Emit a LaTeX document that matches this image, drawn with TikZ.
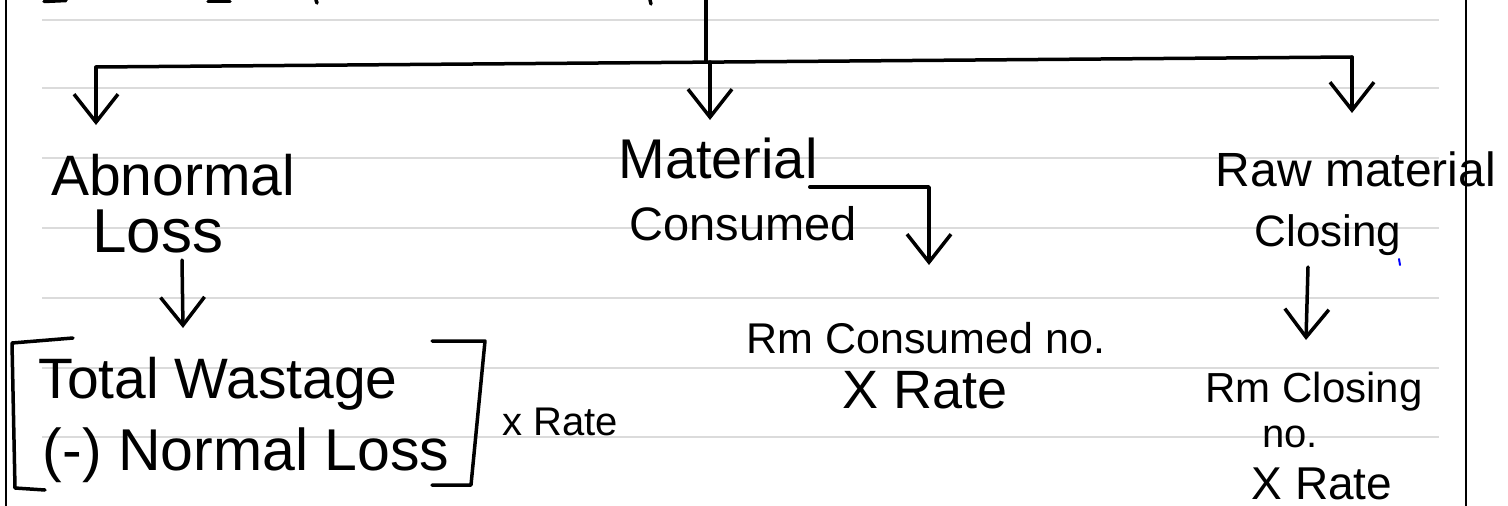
\documentclass[tikz,border=0pt]{standalone}
\usepackage{fontspec}
\setmainfont{Liberation Sans}
\usetikzlibrary{arrows.meta}

\begin{document}
\begin{tikzpicture}[
  x=1pt, y=-1pt,
  ink/.style ={line width=3.5pt, line cap=round, line join=round},
  arr/.style ={ink, -{Straight Barb[length=28pt,width=44pt]}},
  rule/.style={line width=2pt, black!14},
  hw/.style  ={inner sep=0pt, anchor=base, font=\fontsize{#1}{#1}\selectfont}]

\useasboundingbox (0,0) rectangle (1508,506);

% ruled page and margins
\foreach \y in {20,88,158,228,298,368,437}
  \draw[rule] (42,\y) -- (1439,\y);
\draw[line width=2.5pt] (6,0) -- (6,506);
\draw[line width=2pt] (1466,0) -- (1466,506);

% cut-off strokes of the line above
\draw[ink] (44,1.5) -- (66,0.5);
\draw[ink] (208,1.5) -- (230,1.5);
\draw[ink] (316,0) -- (317,3);
\draw[ink] (650,0) -- (651,4);

\node[hw=57] (abn)  at (173,195)  {Abnormal};
\node[hw=62] (loss) at (158,252)  {Loss};
\node[hw=57] (tw)   at (218,398)  {Total Wastage};
\node[hw=59] (nl)   at (246,470)  {(-) Normal Loss};
\node[hw=40] (xr1)  at (560,435)  {x Rate};
\node[hw=56] (mat)  at (718,178)  {Material};
\node[hw=47] (cons) at (743,240)  {Consumed};
\node[hw=43] (rmc)  at (926,353)  {Rm Consumed no.};
\node[hw=54] (xr2)  at (925,408)  {X Rate};
\node[hw=48] (raw)  at (1356,186) {Raw material};
\node[hw=44] (clo)  at (1328,246) {Closing};
\node[hw=42] (rmcl) at (1314,402) {Rm Closing};
\node[hw=40] (no)   at (1290,447) {no.};
\node[hw=46] (xr3)  at (1322,499) {X Rate};

% square brackets round the wastage
\draw[ink] (73,338) -- (12,343) -- (15,488) -- (45,490);
\draw[ink] (432,341) -- (485,341) -- (471,485) -- (432,485);

\coordinate (src)    at (706,0);
\coordinate (hub)    at (706,62);
\coordinate (barL)   at (96,67);
\coordinate (barM)   at (710,62);
\coordinate (barR)   at (1352,57);
\coordinate (abnIn)  at (96,125);
\coordinate (matIn)  at (710,120);
\coordinate (rawIn)  at (1352,113);
\coordinate (lossOut) at (182,260);
\coordinate (twIn)   at (183,328);
\coordinate (rmcIn)  at (929,265);
\coordinate (cloOut) at (1308,267);
\coordinate (rmclIn) at (1306,340);

\draw[ink] (src) -- (hub);
\draw[ink] (barL) -- (barR);
\draw[arr] (barL) -- (abnIn);
\draw[arr] (barM) -- (matIn);
\draw[arr] (barR) -- (rawIn);
\draw[arr] (lossOut) -- (twIn);
\draw[arr] ([xshift=-8pt,yshift=-9pt]mat.base east) -| (rmcIn);
\draw[arr] (cloOut) -- (rmclIn);

% stray pen mark
\draw[blue, line width=2pt, line cap=round] (1399,259) -- (1400,265);
\end{tikzpicture}
\end{document}
